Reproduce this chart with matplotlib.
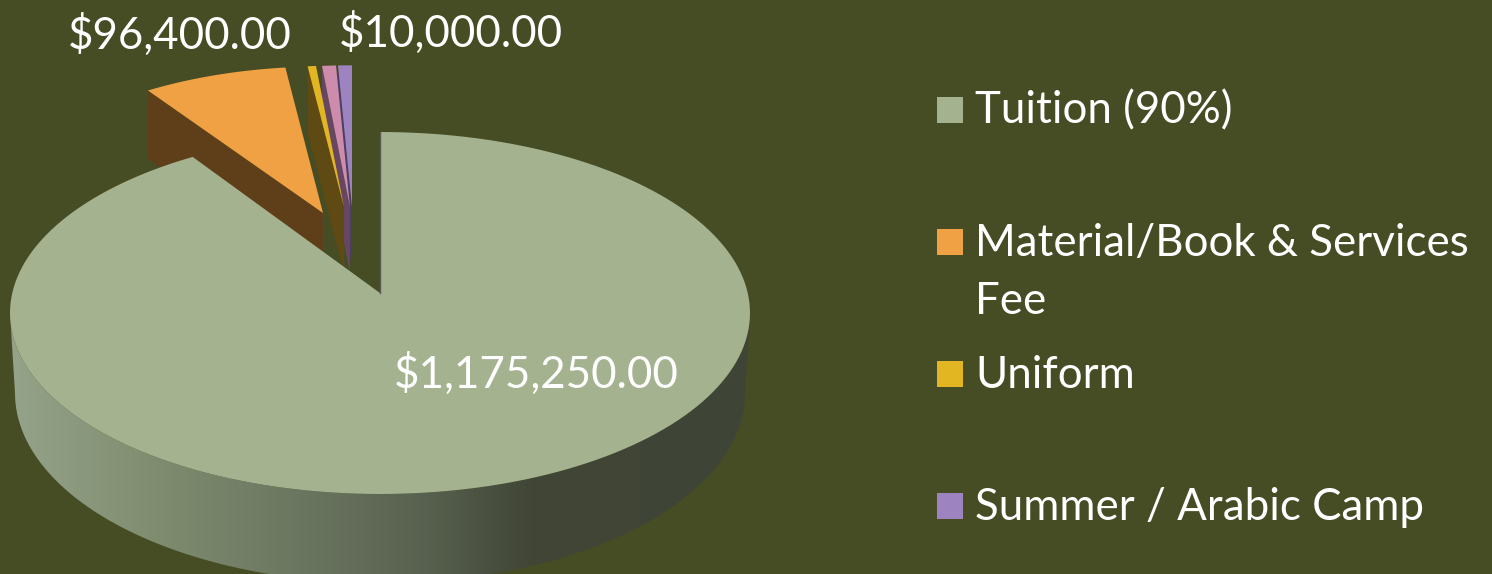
#3d looking exploded pie with legend on the right
import numpy as np
import matplotlib
matplotlib.use("Agg")
import matplotlib.pyplot as plt
from matplotlib.patches import Polygon, Rectangle
from matplotlib.colors import to_rgb

# data
categories = ["Tuition (90%)", "Material/Book & Services\nFee", "Uniform", "Other", "Summer / Arabic Camp"]
values = [1175250, 96400, 6000, 10000, 10000]
top_colors = ["#a4b28f", "#f0a143", "#e2b623", "#cd8cac", "#9d84c0"]
wall_colors = ["#3f4536", "#5f3f1a", "#5e4a12", "#664660", "#4a3d66"]
value_labels = ["$1,175,250.00", "$96,400.00", "$10,000.00"]

BG = "#464c24"
FONT = "Lato"
FS = 31.6

# pie geometry in pixels
RX, RY = 370, 181
CENTER_DROP = 20
DEPTH = 75
apexes = [(380, 293), (323, 213), (344, 207), (350, 207), (352, 207)]
scales = [1.0, 0.91, 0.88, 0.88, 0.88]
angle_pad = [0, 1.0, 0, 0, 0]  # perspective makes the material slice look a bit wider


def arc(apex, scale, a0, a1):
    # points on the slice outer edge, angles in deg clockwise from 12 o'clock
    th = np.radians(np.linspace(a0, a1, 200))
    off = CENTER_DROP / RY
    c = np.cos(th)
    t = -off * c + np.sqrt((off * c) ** 2 - off ** 2 + 1)
    x = apex[0] + t * np.sin(th) * RX * scale
    y = apex[1] - t * c * RY * scale
    return x, y


fig = plt.figure(figsize=(14.92, 5.74), dpi=100, facecolor=BG)
ax = fig.add_axes([0, 0, 1, 1])
ax.set_facecolor(BG)
ax.axis("off")

fracs = np.array(values) / sum(values) * 360
edges = np.concatenate([[0], np.cumsum(fracs)])

# small slices first, back to front, material last
for i in [4, 3, 2, 1]:
    x, y = arc(apexes[i], scales[i], edges[i] - angle_pad[i], edges[i + 1])
    ax_, ay = apexes[i]
    d = DEPTH * scales[i]
    wall = [(ax_, ay), (x[0], y[0]), (x[0], y[0] + d), (ax_, ay + d)]
    ax.add_patch(Polygon(wall, closed=True, fc=wall_colors[i], ec="none", zorder=2))
    top = np.column_stack([np.r_[ax_, x], np.r_[ay, y]])
    ax.add_patch(Polygon(top, closed=True, fc=top_colors[i], ec="none", zorder=2))

# front wall of the big slice with a horizontal gradient
t = np.radians(np.linspace(180, 360, 300))
top_x = 380 + RX * np.cos(t)
top_y = 313 - RY * np.sin(t)
bot_x = 380 + 365 * np.cos(t)
bot_y = 393 - 190 * np.sin(t)
wall_pts = np.column_stack([np.r_[top_x, bot_x[::-1]], np.r_[top_y, bot_y[::-1]]])
wall_patch = Polygon(wall_pts, closed=True, fc="none", ec="none", transform=ax.transData)
ax.add_patch(wall_patch)

stops_x = [10, 150, 300, 420, 530, 750]
stops_c = ["#95a38a", "#808d70", "#6b7660", "#596250", "#414636", "#3f4536"]
xs = np.linspace(0, 760, 380)
grad = np.zeros((1, len(xs), 3))
for k in range(3):
    grad[0, :, k] = np.interp(xs, stops_x, [to_rgb(c)[k] for c in stops_c])
im = ax.imshow(grad, extent=[0, 760, 600, 300], aspect="auto", zorder=3)
im.set_clip_path(wall_patch)

# big slice top
x, y = arc(apexes[0], scales[0], edges[0], edges[1])
top = np.column_stack([np.r_[apexes[0][0], x], np.r_[apexes[0][1], y]])
ax.add_patch(Polygon(top, closed=True, fc=top_colors[0], ec="none", zorder=4))
ax.plot([x[0], apexes[0][0]], [y[0], apexes[0][1]], color="#5a5a55", lw=1, zorder=4)

# value labels
ax.text(536, 374, value_labels[0], color="white", fontsize=FS, family=FONT, ha="center", va="center", zorder=5)
ax.text(180, 35, value_labels[1], color="white", fontsize=FS, family=FONT, ha="center", va="center", zorder=5)
ax.text(451, 33, value_labels[2], color="white", fontsize=FS, family=FONT, ha="center", va="center", zorder=5)

# legend, the pink slice has no entry in it
legend_idx = [0, 1, 2, 4]
legend_y = [110, 242, 374, 506]
for i, ly in zip(legend_idx, legend_y):
    ax.add_patch(Rectangle((937, ly - 13), 26, 26, fc=top_colors[i], ec="none", zorder=5))
    ax.text(975, ly + 1, categories[i].split("\n")[0], color="white", fontsize=FS, family=FONT, va="center", zorder=5)
    if "\n" in categories[i]:
        ax.text(975, ly + 60, categories[i].split("\n")[1], color="white", fontsize=FS, family=FONT, va="center", zorder=5)

ax.set_xlim(0, 1492)
ax.set_ylim(574, 0)

fig.savefig("out.png", dpi=100, facecolor=BG)
